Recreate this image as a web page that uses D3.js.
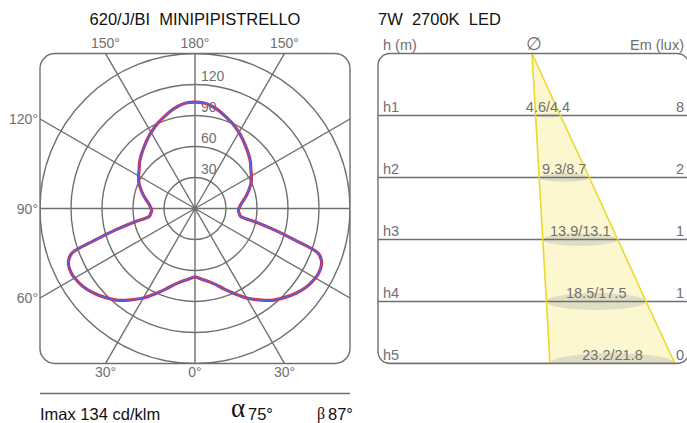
<!DOCTYPE html>
<html><head><meta charset="utf-8">
<script src="https://cdn.jsdelivr.net/npm/d3@7"></script>
<style>
html,body{margin:0;padding:0;background:#fff;}
svg{display:block;font-family:"Liberation Sans",Arial,sans-serif;}
text{white-space:pre;}
</style></head>
<body><svg id="c" width="687" height="423"></svg>
<script>
// ---------- data ----------
const titleLeft = "620/J/BI  MINIPIPISTRELLO";
const titleRight = "7W  2700K  LED";
const gammaDeg = [0,5,10,15,20,25,30,35,40,45,50,55,60,62.5,65,67.5,70,72.5,75,77.5,80,82.5,85,87.5,90,95,100,105,110,115,120,125,130,135,140,145,150,155,160,165,170,175,180];
const cdC0  = [66,68.5,71.5,76,83,91,100,108,116,122,127.5,132,134.5,135,134.5,132.5,127,101,79,60,45,43.5,42.5,42,42.5,44.5,48,52,56,60,63,66,70,73.5,77,81,85,89,92.5,96.5,100,102.5,103];
const cdC90 = [66,68.5,71.5,76,83,91,100,108,116,122,127.5,132,134.5,135,134.5,132.5,127,101,79,60,45,43.5,42.5,42,42.5,44.5,48,52,56,60,63,66,70,73.5,77,81,85,89,92.5,96.5,100,102.5,103];
const ringValues = [30,60,90,120,150];
const ringLabels = ["30","60","90","120"];
const spokeAngles = [0,30,60,90,120,150,180,210,240,270,300,330];
const topLabels = ["150°","180°","150°"];
const sideLabels = ["120°","90°","60°"];
const bottomLabels = ["30°","0°","30°"];
const imaxText = "Imax 134 cd/klm";
const alphaVal = "75°", betaVal = "87°";

const levels = ["h1","h2","h3","h4","h5"];
const diamAlpha = [4.6,9.3,13.9,18.5,23.2];
const diamBeta  = [4.4,8.7,13.1,17.5,21.8];
const emLux = ["8","2","1","1","0"];

// ---------- layout ----------
const svg = d3.select("#c");
const grid = "#6f6f6f", lab = "#707070";
const cx = 195, cy = 208.5;
const r = d3.scaleLinear().domain([0,150]).range([0,155]);
const fx0 = 40, fy0 = 53.5, fx1 = 350, fy1 = 363.5;

const defs = svg.append("defs");
defs.append("clipPath").attr("id","pclip").append("rect")
  .attr("x",fx0).attr("y",fy0).attr("width",fx1-fx0).attr("height",fy1-fy0).attr("rx",15);

// titles
svg.append("text").attr("x",cx).attr("y",25).attr("text-anchor","middle")
  .attr("font-size",16.5).attr("fill","#111").text(titleLeft);

// polar grid
const pg = svg.append("g").attr("clip-path","url(#pclip)");
pg.selectAll("circle.ring").data(ringValues).join("circle")
  .attr("cx",cx).attr("cy",cy).attr("r",d=>r(d))
  .attr("fill","none").attr("stroke",grid).attr("stroke-width",1.4);
pg.selectAll("line.spoke").data(spokeAngles).join("line")
  .attr("x1",cx).attr("y1",cy)
  .attr("x2",d=>cx+300*Math.sin(d*Math.PI/180))
  .attr("y2",d=>cy-300*Math.cos(d*Math.PI/180))
  .attr("stroke",grid).attr("stroke-width",1.4);
svg.append("circle").attr("cx",cx).attr("cy",cy).attr("r",2.5).attr("fill",grid);

// ring labels
svg.selectAll("text.rl").data(ringLabels).join("text")
  .attr("x",cx+6).attr("y",d=>cy-r(+d)-4)
  .attr("font-size",14).attr("fill",lab).text(d=>d);

// curves
function pts(vals){
  const right = gammaDeg.map((g,i)=>[Math.PI - g*Math.PI/180, r(vals[i])]);
  const left = gammaDeg.slice(0,-1).reverse().map(g=>{
    const i = gammaDeg.indexOf(g);
    return [g*Math.PI/180 - Math.PI, r(vals[i])];
  });
  return right.concat(left);
}
const radial = d3.lineRadial().angle(d=>d[0]).radius(d=>d[1]).curve(d3.curveCatmullRom.alpha(0.5));
const cg = svg.append("g").attr("transform",`translate(${cx},${cy})`);
cg.append("path").attr("d",radial(pts(cdC0))).attr("fill","none")
  .attr("stroke","#e8262e").attr("stroke-width",3.2).attr("stroke-linejoin","round");
cg.append("path").attr("d",radial(pts(cdC90))).attr("fill","none")
  .attr("stroke","#5a5ee0").attr("stroke-width",1.8).attr("stroke-linejoin","round");

// frame
svg.append("rect").attr("x",fx0).attr("y",fy0).attr("width",fx1-fx0).attr("height",fy1-fy0)
  .attr("rx",15).attr("fill","none").attr("stroke",grid).attr("stroke-width",1.4);

// angle labels
const t30 = (fy1-cy)*Math.tan(Math.PI/6);
const topX = [cx-t30, cx, cx+t30];
svg.selectAll("text.tl").data(topLabels).join("text")
  .attr("x",(d,i)=>topX[i]).attr("y",48).attr("text-anchor","middle")
  .attr("font-size",14).attr("fill",lab).text(d=>d);
svg.selectAll("text.bl").data(bottomLabels).join("text")
  .attr("x",(d,i)=>topX[i]).attr("y",377).attr("text-anchor","middle")
  .attr("font-size",14).attr("fill",lab).text(d=>d);
const sideY = [cy-t30, cy, cy+t30];
svg.selectAll("text.sl").data(sideLabels).join("text")
  .attr("x",38).attr("y",(d,i)=>sideY[i]+5).attr("text-anchor","end")
  .attr("font-size",14).attr("fill",lab).text(d=>d);

// separator and bottom info
svg.append("line").attr("x1",40).attr("x2",350).attr("y1",393.5).attr("y2",393.5)
  .attr("stroke",grid).attr("stroke-width",1.3);
svg.append("text").attr("x",40).attr("y",420).attr("font-size",16.5).attr("fill","#111").text(imaxText);
svg.append("text").attr("x",231).attr("y",417).attr("font-size",27)
  .attr("font-family","Liberation Serif,serif").attr("fill","#111").text("α");
svg.append("text").attr("x",248).attr("y",420).attr("font-size",16.5).attr("fill","#111").text(alphaVal);
svg.append("text").attr("x",317).attr("y",419).attr("font-size",16)
  .attr("font-family","Liberation Serif,serif").attr("fill","#111").text("β");
svg.append("text").attr("x",328).attr("y",420).attr("font-size",16.5).attr("fill","#111").text(betaVal);

// ---------- right panel ----------
const rx0 = 378, rx1 = 689;
const apexX = 532;
const yLev = d3.scaleLinear().domain([0,5]).range([fy0,fy1]);
const wM = d3.scaleLinear().domain([0,23.2]).range([0,125]);
const lean = 0.058;
defs.append("clipPath").attr("id","rclip").append("rect")
  .attr("x",rx0).attr("y",fy0).attr("width",rx1-rx0).attr("height",fy1-fy0).attr("rx",12);

svg.append("text").attr("x",rx0).attr("y",25).attr("font-size",16.5).attr("fill","#111").text(titleRight);
svg.append("text").attr("x",383).attr("y",50).attr("font-size",14.5).attr("fill",lab).text("h (m)");
svg.append("text").attr("x",534).attr("y",50).attr("text-anchor","middle").attr("font-size",18)
  .attr("font-family","DejaVu Sans,sans-serif").attr("fill",lab).text("∅");
svg.append("text").attr("x",684).attr("y",50).attr("text-anchor","end").attr("font-size",14.5).attr("fill",lab).text("Em (lux)");

const lv = levels.map((h,i)=>{
  const y = yLev(i+1);
  const left = apexX + lean*(y-fy0);
  const w = wM(diamAlpha[i]);
  return {h, y, left, w, cxE: left+w/2, a: diamAlpha[i], b: diamBeta[i], em: emLux[i]};
});

const rp = svg.append("g").attr("clip-path","url(#rclip)");
// cone
const conePts = [[apexX,fy0]].concat(lv.map(d=>[d.left,d.y])).concat(lv.slice().reverse().map(d=>[d.left+d.w,d.y]));
rp.append("path").attr("d",d3.line()(conePts)+"Z").attr("fill","#fcf7cf").attr("stroke","none");
// ellipses
rp.selectAll("ellipse").data(lv).join("ellipse")
  .attr("cx",d=>d.cxE).attr("cy",d=>d.y).attr("rx",d=>d.w/2).attr("ry",d=>d.w*0.085)
  .attr("fill","#d9d9c3").attr("opacity",0.85);
// level lines
rp.selectAll("line.lev").data(lv).join("line")
  .attr("x1",rx0).attr("x2",rx1).attr("y1",d=>d.y).attr("y2",d=>d.y)
  .attr("stroke",grid).attr("stroke-width",1.4);
// cone edges
rp.append("path").attr("d",d3.line()([[apexX,fy0]].concat(lv.map(d=>[d.left,d.y]))))
  .attr("fill","none").attr("stroke","#e9d92c").attr("stroke-width",1.6);
rp.append("path").attr("d",d3.line()([[apexX,fy0]].concat(lv.map(d=>[d.left+d.w,d.y]))))
  .attr("fill","none").attr("stroke","#e9d92c").attr("stroke-width",1.6);

svg.append("rect").attr("x",rx0).attr("y",fy0).attr("width",rx1-rx0).attr("height",fy1-fy0)
  .attr("rx",12).attr("fill","none").attr("stroke",grid).attr("stroke-width",1.4);

svg.selectAll("text.lv").data(lv).join("text")
  .attr("x",383).attr("y",d=>d.y-4).attr("font-size",14.5).attr("fill",lab).text(d=>d.h);
svg.selectAll("text.dm").data(lv).join("text")
  .attr("x",d=>d.cxE).attr("y",d=>d.y-4).attr("text-anchor","middle")
  .attr("font-size",14.5).attr("fill",lab).text(d=>`${d.a}/${d.b}`);
svg.selectAll("text.em").data(lv).join("text")
  .attr("x",684).attr("y",d=>d.y-4).attr("text-anchor","end")
  .attr("font-size",14.5).attr("fill",lab).text(d=>d.em);
</script></body></html>
